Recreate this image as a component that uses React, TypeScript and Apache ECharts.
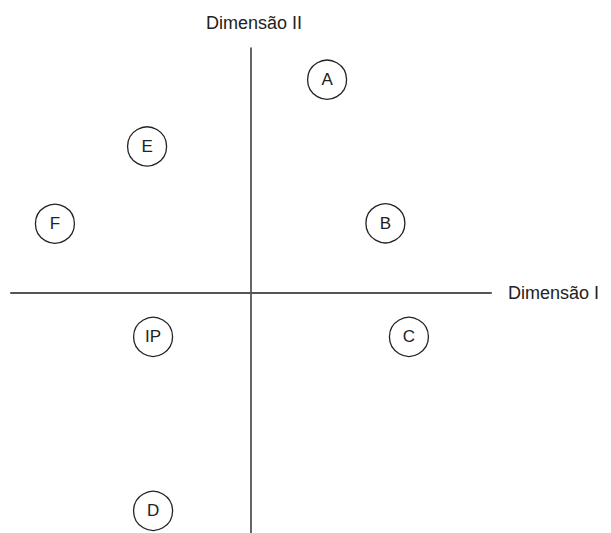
import React, { useEffect, useRef } from "react";
import * as echarts from "echarts";

const labels = ["A", "E", "F", "B", "IP", "C", "D"];
const xValues = [3.17, -4.33, -8.17, 5.6, -4.08, 6.58, -4.08];
const yValues = [8.88, 6.1, 2.88, 2.9, -1.83, -1.83, -9.08];
const xAxisName = "Dimensão I";
const yAxisName = "Dimensão II";

export default function App() {
  const ref = useRef<HTMLDivElement>(null);
  useEffect(() => {
    if (!ref.current) return;
    const chart = echarts.init(ref.current, null, { renderer: "svg" });
    const font = "'Liberation Sans', Arial, Helvetica, sans-serif";
    chart.setOption({
      animation: false,
      backgroundColor: "#ffffff",
      grid: { left: 11, right: 120, top: 48, bottom: 0 },
      xAxis: {
        type: "value",
        min: -10,
        max: 10,
        name: xAxisName,
        nameLocation: "end",
        nameGap: 17,
        nameTextStyle: { fontFamily: font, fontSize: 18, color: "#222" },
        axisLine: { show: true, onZero: true, lineStyle: { color: "#555", width: 2 } },
        axisTick: { show: false },
        axisLabel: { show: false },
        splitLine: { show: false },
      },
      yAxis: {
        type: "value",
        min: -10,
        max: 10.2,
        name: yAxisName,
        nameLocation: "end",
        nameGap: 16,
        nameTextStyle: { fontFamily: font, fontSize: 18, color: "#222", padding: [0, 0, 0, 6] },
        axisLine: { show: true, onZero: true, lineStyle: { color: "#333", width: 1.5 } },
        axisTick: { show: false },
        axisLabel: { show: false },
        splitLine: { show: false },
      },
      series: [
        {
          type: "scatter",
          symbol: "circle",
          symbolSize: 39,
          itemStyle: { color: "#ffffff", borderColor: "#222", borderWidth: 1.3, opacity: 1 },
          label: {
            show: true,
            position: "inside",
            formatter: (p: any) => p.data[2],
            fontFamily: font,
            fontSize: 17,
            color: "#222",
          },
          emphasis: { disabled: true },
          data: labels.map((l, i) => [xValues[i], yValues[i], l]),
        },
      ],
    });
    return () => chart.dispose();
  }, []);
  return (
    <div
      ref={ref}
      style={{ position: "fixed", left: 0, top: 0, width: 611, height: 533, background: "#fff" }}
    />
  );
}
